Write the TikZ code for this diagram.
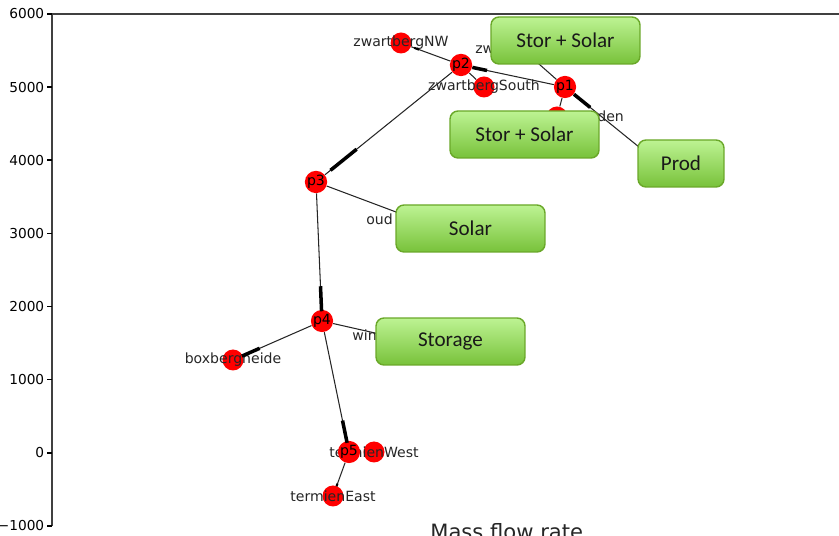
\documentclass[tikz,border=0pt]{standalone}
\usepackage{fontspec}
\setmainfont{DejaVu Sans}
\newfontfamily\tagfont{Carlito}
\usetikzlibrary{calc}
\definecolor{tagedge}{HTML}{6AA829}
\definecolor{tagtop}{HTML}{BDF393}
\definecolor{tagbottom}{HTML}{78C23A}

\begin{document}
\begin{tikzpicture}[x=0.02cm,y=-0.02cm,
    pnode/.style={circle,fill=red,minimum size=0.42cm,inner sep=0pt,
      font=\fontsize{8}{8}\selectfont},
    lbl/.style={font=\fontsize{8}{8}\selectfont,text=black!85,inner sep=0pt},
    ticklbl/.style={font=\fontsize{7.8}{8}\selectfont,anchor=east,inner sep=0pt},
    edge/.style={draw=black!85,line width=0.6pt},
    flow/.style={draw=black,line width=2pt},
    tagbox/.style={draw=tagedge,line width=0.8pt,rounded corners=0.16cm,
      top color=tagtop,bottom color=tagbottom,minimum height=0.94cm,
      font=\tagfont\fontsize{12}{12}\selectfont,text=black!90}]
  \useasboundingbox (0,0) rectangle (839,536);

  % axis
  \draw[black!75,line width=0.7pt] (52,526) -- (52,14) -- (839,14);
  \foreach \v [count=\k from 0] in {6000,5000,4000,3000,2000,1000,0,−1000}
    \draw[line width=0.9pt] (47,14+\k*73.14) -- (52,14+\k*73.14)
      node[ticklbl] at (45,14+\k*73.14) {\v};

  % nodes
  \node[pnode,label={[lbl]center:zwartbergNW}] (zNW) at (401,43) {};
  \node[pnode] (p2) at (461,65) {p2};
  \node[pnode,label={[lbl]center:zwartbergSouth}] (zS) at (484,87) {};
  \node[pnode] (p1) at (565,87) {p1};
  \node[pnode] (zNE) at (522,49) {};
  \node[pnode] (hden) at (557,117) {};
  \node[pnode] (prod) at (655,160) {};
  \node[pnode] (p3) at (316,182) {p3};
  \node[pnode] (oud) at (412,218) {};
  \node[pnode] (p4) at (322,321) {p4};
  \node[pnode,label={[lbl]center:boxbergneide}] (bbh) at (233,360) {};
  \node[pnode] (win) at (397,338) {};
  \node[pnode,label={[lbl]center:termienWest}] (tW) at (374,452) {};
  \node[pnode] (p5) at (349,452) {p5};
  \node[pnode,label={[lbl]center:termienEast}] (tE) at (333,496) {};
  \node[lbl,anchor=west] (lzw) at (475,50) {zw};
  \node[lbl,anchor=west] (loud) at (366,219) {oud};
  \node[lbl,anchor=west] (lwin) at (352,335) {win};
  \node[lbl,anchor=west] (lden) at (597,116) {den};

  % edges
  \begin{scope}[edge]
    \draw (p1) -- (p2);
    \draw (p2) -- (zNW);
    \draw (p2) -- (zS);
    \draw (p2) -- (p3);
    \draw (p1) -- (zNE);
    \draw (p1) -- (hden);
    \draw (prod) -- (p1);
    \draw (p3) -- (oud);
    \draw (p3) -- (p4);
    \draw (p4) -- (bbh);
    \draw (p4) -- (win);
    \draw (p4) -- (p5);
    \draw (p5) -- (tE);
  \end{scope}
  \begin{scope}[flow]
    \draw ($(p1)!0.75!(p2)$) -- ($(p1)!0.89!(p2)$);
    \draw ($(p2)!0.72!(p3)$) -- ($(p2)!0.9!(p3)$);
    \draw ($(prod)!0.72!(p1)$) -- ($(prod)!0.9!(p1)$);
    \draw ($(p3)!0.75!(p4)$) -- ($(p3)!0.93!(p4)$);
    \draw ($(p4)!0.7!(bbh)$) -- ($(p4)!0.9!(bbh)$);
    \draw ($(p4)!0.76!(p5)$) -- ($(p4)!0.93!(p5)$);
  \end{scope}
  \draw[line width=1.2pt] ($(p2)!0.7!(zNW)$) -- ($(p2)!0.78!(zNW)$);
  \draw[line width=1.2pt] ($(p5)!0.72!(tE)$) -- ($(p5)!0.78!(tE)$);

  % tags
  \node[tagbox,minimum width=2.98cm] (tag1) at (565.5,40.5) {Stor + Solar};
  \node[tagbox,minimum width=2.98cm] (tag2) at (524.5,134.5) {Stor + Solar};
  \node[tagbox,minimum width=1.72cm] (tag3) at (681,163.5) {Prod};
  \node[tagbox,minimum width=2.98cm] (tag4) at (470.5,228.5) {Solar};
  \node[tagbox,minimum width=2.98cm] (tag5) at (450.5,341.5) {Storage};

  % title
  \node[anchor=base west,inner sep=0pt,font=\fontsize{12}{12}\selectfont,
    text=black!85] (title) at (430,540) {Mass flow rate};
\end{tikzpicture}
\end{document}
